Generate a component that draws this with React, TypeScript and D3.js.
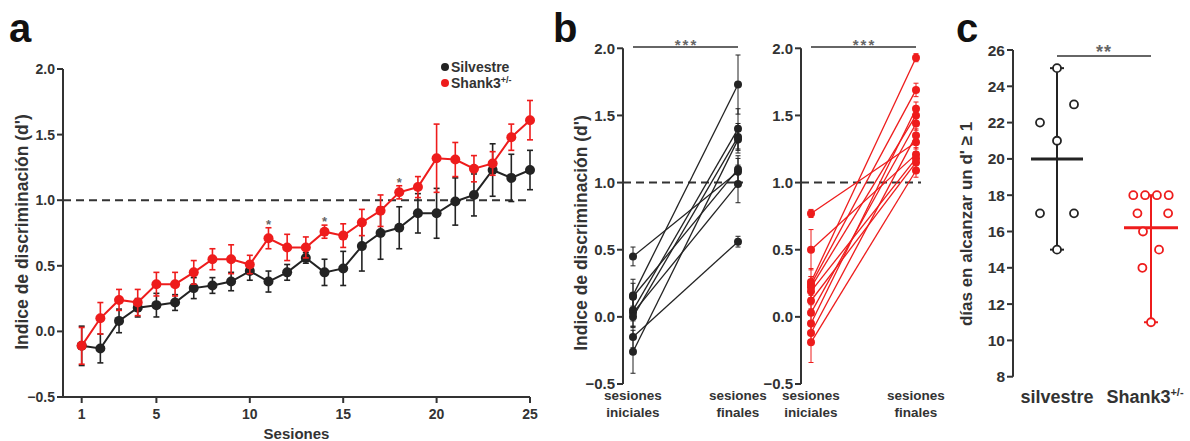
import React from "react";
import * as d3 from "d3";

// ---- panel a: sessions ----
const sessions = [1, 2, 3, 4, 5, 6, 7, 8, 9, 10, 11, 12, 13, 14, 15, 16, 17, 18, 19, 20, 21, 22, 23, 24, 25];
const silvestreMean = [-0.11, -0.13, 0.08, 0.18, 0.2, 0.22, 0.33, 0.35, 0.38, 0.46, 0.38, 0.45, 0.56, 0.45, 0.48, 0.65, 0.75, 0.79, 0.9, 0.9, 0.99, 1.04, 1.23, 1.17, 1.23];
const silvestreErr = [0.15, 0.11, 0.09, 0.07, 0.09, 0.06, 0.08, 0.06, 0.07, 0.07, 0.08, 0.06, 0.04, 0.1, 0.13, 0.19, 0.2, 0.16, 0.15, 0.19, 0.18, 0.16, 0.2, 0.18, 0.15];
const shankMean = [-0.11, 0.1, 0.24, 0.22, 0.36, 0.36, 0.45, 0.55, 0.55, 0.51, 0.71, 0.64, 0.64, 0.76, 0.73, 0.83, 0.92, 1.06, 1.1, 1.32, 1.31, 1.24, 1.28, 1.48, 1.61];
const shankErr = [0.14, 0.12, 0.08, 0.1, 0.09, 0.09, 0.09, 0.08, 0.11, 0.07, 0.08, 0.1, 0.08, 0.05, 0.09, 0.1, 0.12, 0.05, 0.08, 0.26, 0.13, 0.1, 0.09, 0.1, 0.15];
const starSessions = [11, 14, 18];
const dTicks = [-0.5, 0, 0.5, 1, 1.5, 2];
const sessionTicks = [1, 5, 10, 15, 20, 25];

// ---- panel b: initial vs final per animal ----
const bCategories = ["sesiones iniciales", "sesiones finales"];
const wtInitial = [0.45, 0.16, 0.15, 0.05, 0.03, 0.0, -0.15, -0.26];
const wtInitialErr = [0.07, 0.12, 0.1, 0.08, 0.1, 0.08, 0.08, 0.16];
const wtFinal = [1.08, 1.73, 1.1, 1.4, 0.99, 1.34, 0.56, 1.32];
const wtFinalErr = [0.1, 0.22, 0.1, 0.15, 0.14, 0.1, 0.04, 0.1];
const shInitial = [0.77, 0.5, 0.26, 0.24, 0.22, 0.19, 0.12, 0.03, -0.05, -0.12, -0.19];
const shInitialErr = [0.03, 0.15, 0.1, 0.06, 0.08, 0.05, 0.06, 0.06, 0.06, 0.08, 0.15];
const shFinal = [1.3, 1.21, 1.93, 1.69, 1.5, 1.18, 1.15, 1.44, 1.55, 1.35, 1.09];
const shFinalErr = [0.05, 0.05, 0.03, 0.05, 0.05, 0.05, 0.05, 0.05, 0.05, 0.05, 0.05];

// ---- panel c: days to reach d' >= 1 ----
const cCategories = ["silvestre", "Shank3"];
const wtDays = [25, 23, 22, 21, 17, 17, 15];
const shDays = [18, 18, 18, 18, 17, 17, 16, 15, 14, 11];
const daysTicks = [8, 10, 12, 14, 16, 18, 20, 22, 24, 26];

const FONT = "'Liberation Sans', Arial, Helvetica, sans-serif";
const RED = "#ee1c1c";
const INK = "#232323";
const AXIS = "#333";
const STAR = "#666";

const fmt = d3.format(".1f");

function ErrBar({ x, y0, y1, color, cap, w }: any) {
  return (
    <g stroke={color} strokeWidth={w}>
      <line x1={x} x2={x} y1={y0} y2={y1} />
      <line x1={x - cap} x2={x + cap} y1={y0} y2={y0} />
      <line x1={x - cap} x2={x + cap} y1={y1} y2={y1} />
    </g>
  );
}

function YAxis({ scale, x, ticks, format, size }: any) {
  const [r0, r1] = scale.range();
  return (
    <g>
      <line x1={x} x2={x} y1={r0} y2={r1} stroke={AXIS} strokeWidth={2} />
      {ticks.map((t: number) => (
        <g key={t}>
          <line x1={x - 6} x2={x} y1={scale(t)} y2={scale(t)} stroke={AXIS} strokeWidth={2} />
          <text x={x - 8} y={scale(t) + size * 0.36} textAnchor="end" fontSize={size} fontWeight="bold" fill={AXIS}>
            {format(t)}
          </text>
        </g>
      ))}
    </g>
  );
}

function PanelA() {
  const x = d3.scaleLinear().domain([0, 25]).range([63, 530]);
  const y = d3.scaleLinear().domain([-0.5, 2]).range([397, 69]);
  const line = d3.line<number>().x((_, i) => x(sessions[i])).y((d) => y(d));
  const series = [
    { mean: silvestreMean, err: silvestreErr, color: INK },
    { mean: shankMean, err: shankErr, color: RED },
  ];
  return (
    <g>
      <text x={9} y={42} fontSize={40} fontWeight="bold" fill="#111">a</text>
      <YAxis scale={y} x={63} ticks={dTicks} format={fmt} size={14} />
      <line x1={63} x2={530} y1={397} y2={397} stroke={AXIS} strokeWidth={2} />
      {sessionTicks.map((t) => (
        <g key={t}>
          <line x1={x(t)} x2={x(t)} y1={397} y2={403} stroke={AXIS} strokeWidth={2} />
          <text x={x(t)} y={419} textAnchor="middle" fontSize={14} fontWeight="bold" fill={AXIS}>{t}</text>
        </g>
      ))}
      <text x={x(12.5)} y={439} textAnchor="middle" fontSize={15} fontWeight="bold" fill={AXIS}>Sesiones</text>
      <text transform={`translate(28,232) rotate(-90)`} textAnchor="middle" fontSize={17.5} fontWeight="bold" fill={AXIS}>
        Indice de discriminación (d')
      </text>
      <line x1={63} x2={530} y1={y(1)} y2={y(1)} stroke={AXIS} strokeWidth={2} strokeDasharray="8,5" />
      {series.map((s, k) => (
        <g key={k}>
          {s.mean.map((m, i) => (
            <ErrBar key={i} x={x(sessions[i])} y0={y(m - s.err[i])} y1={y(m + s.err[i])} color={s.color} cap={3} w={1.6} />
          ))}
          <path d={line(s.mean) || ""} fill="none" stroke={s.color} strokeWidth={2} />
          {s.mean.map((m, i) => (
            <circle key={i} cx={x(sessions[i])} cy={y(m)} r={5} fill={s.color} />
          ))}
        </g>
      ))}
      {starSessions.map((t) => {
        const i = sessions.indexOf(t);
        return (
          <text key={t} x={x(t)} y={y(shankMean[i] + shankErr[i]) + 1} textAnchor="middle" fontSize={13} fontWeight="bold" fill={STAR}>*</text>
        );
      })}
      <circle cx={445} cy={67} r={4} fill={INK} />
      <text x={451} y={72} fontSize={14} fontWeight="bold" fill={AXIS}>Silvestre</text>
      <circle cx={445} cy={83} r={4} fill={RED} />
      <text x={451} y={88} fontSize={14} fontWeight="bold" fill={AXIS}>
        Shank3<tspan fontSize={9} dy={-5}>+/-</tspan>
      </text>
    </g>
  );
}

function Pairs({ axisX, initial, initialErr, final, finalErr, color, y, showLabel }: any) {
  const x = d3.scalePoint().domain(bCategories).range([axisX + 10, axisX + 115]);
  const x0 = x(bCategories[0]) as number;
  const x1 = x(bCategories[1]) as number;
  return (
    <g>
      <YAxis scale={y} x={axisX} ticks={dTicks} format={fmt} size={15} />
      <line x1={axisX} x2={x1 + 5} y1={y(1)} y2={y(1)} stroke={AXIS} strokeWidth={2} strokeDasharray="8,5" />
      <line x1={x0} x2={x1} y1={47} y2={47} stroke={AXIS} strokeWidth={1.5} />
      <text x={(x0 + x1) / 2 + 1} y={50} textAnchor="middle" fontSize={15} fontWeight="bold" letterSpacing={2} fill={STAR}>***</text>
      {initial.map((v: number, i: number) => (
        <g key={i}>
          <ErrBar x={x0} y0={y(v - initialErr[i])} y1={y(v + initialErr[i])} color={color} cap={2.5} w={1} />
          <ErrBar x={x1} y0={y(final[i] - finalErr[i])} y1={y(final[i] + finalErr[i])} color={color} cap={2.5} w={1} />
          <line x1={x0} x2={x1} y1={y(v)} y2={y(final[i])} stroke={color} strokeWidth={1.3} />
          <circle cx={x0} cy={y(v)} r={4} fill={color} />
          <circle cx={x1} cy={y(final[i])} r={4} fill={color} />
        </g>
      ))}
      {bCategories.map((c) => {
        const [w1, w2] = c.split(" ");
        return (
          <text key={c} x={x(c)} y={400} textAnchor="middle" fontSize={13.5} fontWeight="bold" fill={AXIS}>
            <tspan x={x(c)}>{w1}</tspan>
            <tspan x={x(c)} dy={17}>{w2}</tspan>
          </text>
        );
      })}
      {showLabel && (
        <text transform={`translate(587,233) rotate(-90)`} textAnchor="middle" fontSize={17.5} fontWeight="bold" fill={AXIS}>
          Indice de discriminación (d')
        </text>
      )}
    </g>
  );
}

function PanelB() {
  const y = d3.scaleLinear().domain([-0.5, 2]).range([384, 48.3]);
  return (
    <g>
      <text x={553} y={42} fontSize={40} fontWeight="bold" fill="#111">b</text>
      <Pairs axisX={623} initial={wtInitial} initialErr={wtInitialErr} final={wtFinal} finalErr={wtFinalErr} color={INK} y={y} showLabel />
      <Pairs axisX={801} initial={shInitial} initialErr={shInitialErr} final={shFinal} finalErr={shFinalErr} color={RED} y={y} />
    </g>
  );
}

function PanelC() {
  const y = d3.scaleLinear().domain([8, 26]).range([376.7, 50]);
  const x = d3.scalePoint().domain(cCategories).range([1057, 1151]);
  const wtSlot = [0, 1, -1, 0, -1, 1, 0];
  const shSlot = [-1.5, -0.5, 0.5, 1.5, -1.15, 1.45, -0.68, 0.68, -0.73, 0];
  const groups = [
    { vals: wtDays, slot: wtSlot, step: 17, cx: x("silvestre") as number, color: INK, half: 26 },
    { vals: shDays, slot: shSlot, step: 11.8, cx: x("Shank3") as number, color: RED, half: 27 },
  ];
  return (
    <g>
      <text x={956} y={42} fontSize={40} fontWeight="bold" fill="#111">c</text>
      <YAxis scale={y} x={1013} ticks={daysTicks} format={(d: number) => String(d)} size={15.5} />
      <text transform={`translate(972,224) rotate(-90)`} textAnchor="middle" fontSize={17} fontWeight="bold" fill={AXIS}>
        días en alcanzar un d' ≥ 1
      </text>
      <line x1={x("silvestre")} x2={x("Shank3")} y1={56} y2={56} stroke={AXIS} strokeWidth={1.5} />
      <text x={((x("silvestre") as number) + (x("Shank3") as number)) / 2} y={58} textAnchor="middle" fontSize={18} fontWeight="bold" letterSpacing={1} fill={STAR}>**</text>
      {groups.map((g, k) => {
        const lo = d3.min(g.vals) as number;
        const hi = d3.max(g.vals) as number;
        const mean = d3.mean(g.vals) as number;
        return (
          <g key={k}>
            <ErrBar x={g.cx} y0={y(lo)} y1={y(hi)} color={g.color} cap={7} w={2} />
            <line x1={g.cx - g.half} x2={g.cx + g.half} y1={y(mean)} y2={y(mean)} stroke={g.color} strokeWidth={3} />
            {g.vals.map((v, i) => (
              <circle key={i} cx={g.cx + g.slot[i] * g.step} cy={y(v)} r={4} fill="#fff" stroke={g.color} strokeWidth={1.8} />
            ))}
          </g>
        );
      })}
      <text x={x("silvestre")} y={403} textAnchor="middle" fontSize={18} fontWeight="bold" fill={AXIS}>silvestre</text>
      <text x={(x("Shank3") as number) - 6} y={403} textAnchor="middle" fontSize={18} fontWeight="bold" fill={AXIS}>
        Shank3<tspan fontSize={11} dy={-7}>+/-</tspan>
      </text>
    </g>
  );
}

export default function App() {
  return (
    <svg width={1190} height={441} style={{ position: "absolute", left: 0, top: 0, background: "#fff" }} fontFamily={FONT}>
      <PanelA />
      <PanelB />
      <PanelC />
    </svg>
  );
}
